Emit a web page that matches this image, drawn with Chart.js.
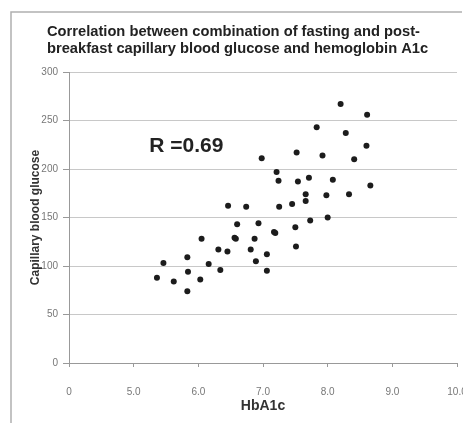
<!DOCTYPE html>
<html>
<head>
<meta charset="utf-8">
<script src="https://cdn.jsdelivr.net/npm/chart.js@4.4.1/dist/chart.umd.min.js"></script>
<style>
  html, body { margin: 0; padding: 0; background: #fff; }
  #wrap { position: relative; width: 463px; height: 423px; overflow: hidden; }
</style>
</head>
<body>
<div id="wrap"><canvas id="c" width="469" height="423"></canvas></div>
<script>
const titleLines = ["Correlation between combination of fasting and post-",
                    "breakfast capillary blood glucose and hemoglobin A1c"];
const xAxisTitle = "HbA1c";
const yAxisTitle = "Capillary blood glucose";
const annotationText = "R =0.69";

const xTicks = [4, 5, 6, 7, 8, 9, 10];
const xTickLabels = ["0", "5.0", "6.0", "7.0", "8.0", "9.0", "10.0"];
const yTicks = [0, 50, 100, 150, 200, 250, 300];

const hba1c = [5.36, 5.46, 5.62, 5.83, 5.84, 5.83, 6.03, 6.05, 6.16, 6.34,
               6.31, 6.45, 6.46, 6.56, 6.58, 6.60, 6.74, 6.81, 6.87, 6.89,
               6.93, 6.98, 7.06, 7.06, 7.17, 7.19, 7.21, 7.24, 7.25, 7.45,
               7.50, 7.51, 7.52, 7.54, 7.66, 7.66, 7.71, 7.73, 7.83, 7.92,
               7.98, 8.00, 8.08, 8.20, 8.28, 8.33, 8.41, 8.61, 8.60, 8.66];
const glucose = [88, 103, 84, 109, 94, 74, 86, 128, 102, 96,
                 117, 115, 162, 129, 128, 143, 161, 117, 128, 105,
                 144, 211, 112, 95, 135, 134, 197, 188, 161, 164,
                 140, 120, 217, 187, 174, 167, 191, 147, 243, 214,
                 173, 150, 189, 267, 237, 174, 210, 256, 224, 183];

const points = hba1c.map((x, i) => ({ x: x, y: glucose[i] }));

const framePlugin = {
  id: 'frame',
  beforeDraw(chart) {
    const ctx = chart.ctx;
    ctx.save();
    ctx.fillStyle = '#fff';
    ctx.fillRect(0, 0, chart.width, chart.height);
    ctx.strokeStyle = '#b0b0b0';
    ctx.lineWidth = 1.5;
    ctx.beginPath();
    ctx.moveTo(11, 423);
    ctx.lineTo(11, 12);
    ctx.lineTo(462, 12);
    ctx.stroke();
    ctx.restore();
  },
  afterDraw(chart) {
    const ctx = chart.ctx;
    ctx.save();
    ctx.fillStyle = '#222';
    ctx.textBaseline = 'middle';
    ctx.textAlign = 'left';
    ctx.font = 'bold 14.7px "Liberation Sans", Arial, sans-serif';
    ctx.fillText(titleLines[0], 47, 32);
    ctx.fillText(titleLines[1], 47, 49);
    const xs = chart.scales.x, ys = chart.scales.y;
    ctx.font = 'bold 21px "Liberation Sans", Arial, sans-serif';
    ctx.fillText(annotationText, xs.getPixelForValue(5.24), ys.getPixelForValue(224));
    ctx.restore();
  }
};

new Chart(document.getElementById('c'), {
  type: 'scatter',
  data: {
    datasets: [{
      data: points,
      backgroundColor: '#1c1c1c',
      borderColor: '#1c1c1c',
      pointRadius: 3,
      pointHoverRadius: 3,
      borderWidth: 0
    }]
  },
  options: {
    responsive: false,
    animation: false,
    events: [],
    layout: { padding: { top: 72, left: 12, right: 12, bottom: 8 } },
    plugins: { legend: { display: false }, tooltip: { enabled: false }, title: { display: false } },
    scales: {
      x: {
        type: 'linear',
        min: 4, max: 10,
        afterBuildTicks: s => { s.ticks = xTicks.map(v => ({ value: v })); },
        afterFit: s => { s.height = 52; s.paddingLeft = 0; s.paddingRight = 0; },
        ticks: {
          color: '#777',
          font: { family: '"Liberation Sans", Arial, sans-serif', size: 10 },
          padding: 19,
          maxRotation: 0,
          autoSkip: false,
          callback: (v, i) => xTickLabels[i]
        },
        grid: { drawOnChartArea: false, drawTicks: true, tickLength: 4, color: '#999' },
        border: { display: true, color: '#999', width: 1 },
        title: {
          display: true, text: xAxisTitle, color: '#333',
          font: { family: '"Liberation Sans", Arial, sans-serif', size: 14, weight: 'bold' },
          padding: { top: 0, bottom: 0 }
        }
      },
      y: {
        min: 0, max: 300,
        afterBuildTicks: s => { s.ticks = yTicks.map(v => ({ value: v })); },
        afterFit: s => { s.width = 57; s.paddingTop = 0; s.paddingBottom = 0; },
        ticks: {
          color: '#777',
          font: { family: '"Liberation Sans", Arial, sans-serif', size: 10 },
          padding: 5
        },
        grid: { color: '#c8c8c8', lineWidth: 1, tickLength: 6, tickColor: '#999' },
        border: { display: true, color: '#999', width: 1 },
        title: {
          display: true, text: yAxisTitle, color: '#333',
          font: { family: '"Liberation Sans", Arial, sans-serif', size: 12, weight: 'bold' },
          padding: { top: 16, bottom: 0 }
        }
      }
    }
  },
  plugins: [framePlugin]
});
</script>
</body>
</html>
